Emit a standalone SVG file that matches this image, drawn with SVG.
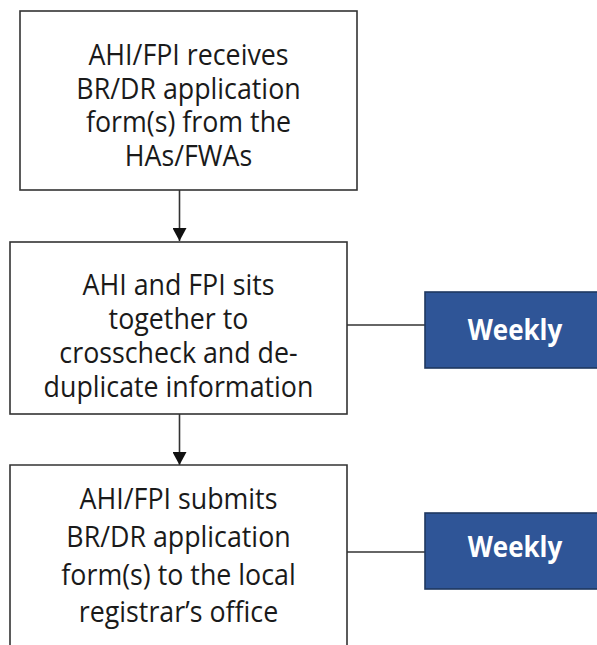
<svg xmlns="http://www.w3.org/2000/svg" width="597" height="645" viewBox="0 0 597 645">
<style>
.box{fill:#ffffff;stroke:#333333;stroke-width:1.6}
.wk{fill:#2f5597;stroke:#1f3760;stroke-width:1.6}
.t{font-family:"Open Sans","Liberation Sans",sans-serif;font-size:26.8px;fill:#1a1a1a;text-anchor:middle}
.w{font-family:"Open Sans","Liberation Sans",sans-serif;font-size:26px;font-weight:bold;fill:#ffffff;text-anchor:middle}
.ln{stroke:#333333;stroke-width:1.6;fill:none}
</style>
<defs>
<marker id="ah" viewBox="0 0 13 14" refX="13" refY="7" markerWidth="13" markerHeight="14" markerUnits="userSpaceOnUse" orient="auto">
<path d="M0,0 L13,7 L0,14 Z" fill="#111111"/>
</marker>
</defs>
<g id="connectors">
<line class="ln" x1="179.5" y1="190" x2="179.5" y2="241" marker-end="url(#ah)"/>
<line class="ln" x1="179.5" y1="414" x2="179.5" y2="465" marker-end="url(#ah)"/>
<line class="ln" x1="347" y1="325" x2="425" y2="325"/>
<line class="ln" x1="347" y1="552" x2="425" y2="552"/>
</g>
<g id="node1">
<rect class="box" x="20" y="11" width="337" height="179"/>
<text class="t" transform="matrix(1 0 0 1.12 188.5 65)">AHI/FPI receives</text>
<text class="t" transform="matrix(1 0 0 1.12 188.5 98.5)">BR/DR application</text>
<text class="t" transform="matrix(1 0 0 1.12 188.5 132)">form(s) from the</text>
<text class="t" transform="matrix(1 0 0 1.12 188.5 166)">HAs/FWAs</text>
</g>
<g id="node2">
<rect class="box" x="10" y="242" width="337" height="172"/>
<text class="t" transform="matrix(1 0 0 1.12 178.5 295)">AHI and FPI sits</text>
<text class="t" transform="matrix(1 0 0 1.12 178.5 329)">together to</text>
<text class="t" transform="matrix(1 0 0 1.12 178.5 363)">crosscheck and de-</text>
<text class="t" transform="matrix(1 0 0 1.12 178.5 397)">duplicate information</text>
</g>
<g id="node3">
<path class="box" d="M10,650 L10,465 L347,465 L347,650"/>
<text class="t" transform="matrix(1 0 0 1.12 178.5 509)">AHI/FPI submits</text>
<text class="t" transform="matrix(1 0 0 1.12 178.5 547)">BR/DR application</text>
<text class="t" transform="matrix(1 0 0 1.12 178.5 585)">form(s) to the local</text>
<text class="t" transform="matrix(1 0 0 1.12 178.5 622)">registrar’s office</text>
</g>
<g id="weekly1">
<rect class="wk" x="425" y="292" width="180" height="76"/>
<text class="w" transform="matrix(1 0 0 1.08 515 340)">Weekly</text>
</g>
<g id="weekly2">
<rect class="wk" x="425" y="513" width="180" height="76"/>
<text class="w" transform="matrix(1 0 0 1.08 515 557)">Weekly</text>
</g>
</svg>
